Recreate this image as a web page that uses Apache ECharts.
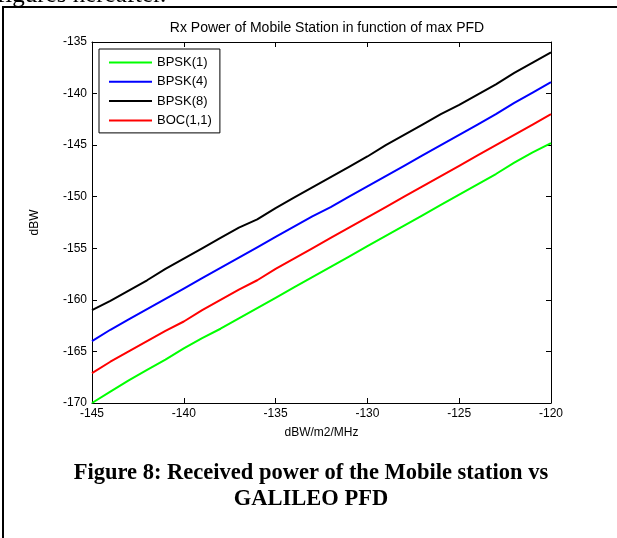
<!DOCTYPE html>
<html>
<head>
<meta charset="utf-8">
<script src="https://cdn.jsdelivr.net/npm/echarts@6/dist/echarts.min.js"></script>
<style>
  html, body { margin: 0; padding: 0; background: #fff; }
  #chart { width: 617px; height: 538px; }
</style>
</head>
<body>
<div id="chart"></div>
<script>
// PFD values (dBW/m2/MHz)
const pfd = [-145, -144, -143, -142, -141, -140, -139, -138, -137, -136, -135, -134, -133,
             -132, -131, -130, -129, -128, -127, -126, -125, -124, -123, -122, -121, -120];

// Received power (dBW) per signal
const bpsk1 = [-170.0, -168.9, -167.8, -166.8, -165.8, -164.7, -163.7, -162.8, -161.8, -160.8,
               -159.8, -158.8, -157.8, -156.8, -155.8, -154.8, -153.8, -152.8, -151.8, -150.8,
               -149.8, -148.8, -147.8, -146.7, -145.7, -144.8];
const bpsk4 = [-164.0, -162.9, -161.9, -160.9, -159.9, -158.9, -157.9, -156.9, -155.9, -154.9,
               -153.9, -152.9, -151.9, -151.0, -150.0, -149.0, -148.0, -147.0, -146.0, -145.0,
               -144.0, -143.0, -142.0, -140.9, -139.9, -138.9];
const bpsk8 = [-161.0, -160.1, -159.1, -158.1, -157.0, -156.0, -155.0, -154.0, -153.0, -152.2,
               -151.1, -150.1, -149.1, -148.1, -147.1, -146.1, -145.0, -144.0, -143.0, -142.0,
               -141.1, -140.1, -139.1, -138.0, -137.0, -136.0];
const boc11 = [-167.1, -166.0, -165.0, -164.0, -163.0, -162.1, -161.0, -160.0, -159.0, -158.1,
               -157.0, -156.0, -155.0, -154.0, -153.0, -152.0, -151.0, -150.0, -149.0, -148.0,
               -147.0, -146.0, -145.0, -144.0, -143.0, -142.0];

const seriesNames = ['BPSK(1)', 'BPSK(4)', 'BPSK(8)', 'BOC(1,1)'];
const seriesData = [bpsk1, bpsk4, bpsk8, boc11];
const seriesColors = ['#00ff00', '#0000ff', '#000000', '#ff0000'];

const xTicks = { min: -145, max: -120, interval: 5 };
const yTicks = { min: -170, max: -135, interval: 5 };

const sans = 'Liberation Sans, Arial, sans-serif';
const serif = 'Liberation Serif, Times New Roman, serif';

const chart = echarts.init(document.getElementById('chart'), null, { renderer: 'canvas' });

const boxAxis = (extra) => Object.assign({
  type: 'value',
  splitLine: { show: false },
  axisLine: { show: true, onZero: false, lineStyle: { color: '#000', width: 1 } },
  axisTick: { show: true, inside: true, length: 5, lineStyle: { color: '#000' } },
  axisLabel: { show: false }
}, extra);

chart.setOption({
  animation: false,
  backgroundColor: '#fff',
  title: {
    text: 'Rx Power of Mobile Station in function of max PFD',
    left: 322, top: 16, textAlign: 'center',
    textStyle: { fontFamily: sans, fontSize: 14, fontWeight: 'normal', color: '#000' }
  },
  grid: { left: 92, right: 66, top: 42, bottom: 135 },
  legend: {
    orient: 'vertical', left: 99, top: 49,
    padding: [7, 8, 6, 9],
    itemWidth: 43, itemHeight: 14, itemGap: 6.3,
    itemStyle: { opacity: 0 },
    borderColor: '#000', borderWidth: 1, backgroundColor: '#fff',
    textStyle: { fontFamily: sans, fontSize: 13, color: '#000' },
    data: seriesNames
  },
  xAxis: [
    boxAxis({
      position: 'bottom', min: xTicks.min, max: xTicks.max, interval: xTicks.interval,
      name: 'dBW/m2/MHz', nameLocation: 'middle', nameGap: 24,
      nameTextStyle: { fontFamily: sans, fontSize: 12, color: '#000' },
      axisLabel: { show: true, margin: 5, fontFamily: sans, fontSize: 12, color: '#000' }
    }),
    boxAxis({ position: 'top', min: xTicks.min, max: xTicks.max, interval: xTicks.interval })
  ],
  yAxis: [
    boxAxis({
      position: 'left', min: yTicks.min, max: yTicks.max, interval: yTicks.interval,
      name: 'dBW', nameLocation: 'middle', nameGap: 51,
      nameTextStyle: { fontFamily: sans, fontSize: 12, color: '#000' },
      axisLabel: { show: true, margin: 5, fontFamily: sans, fontSize: 12, color: '#000' }
    }),
    boxAxis({ position: 'right', min: yTicks.min, max: yTicks.max, interval: yTicks.interval })
  ],
  series: seriesNames.map((name, i) => ({
    name: name,
    type: 'line',
    xAxisIndex: 0,
    yAxisIndex: 0,
    symbol: 'none',
    data: pfd.map((x, j) => [x, seriesData[i][j]]),
    lineStyle: { color: seriesColors[i], width: 2 },
    itemStyle: { color: seriesColors[i] }
  })),
  graphic: [
    // running text above the figure frame (only its lower part is on the page)
    { type: 'text', x: -3, y: -17,
      style: { text: 'figures hereafter.', font: '25px ' + serif, fill: '#000' } },
    // frame around the figure
    { type: 'rect', shape: { x: 3, y: 7, width: 620, height: 540 },
      style: { fill: 'none', stroke: '#000', lineWidth: 2 } },
    // caption, two centred lines
    { type: 'text', x: 311, y: 462,
      style: { text: 'Figure 8: Received power of the Mobile station vs',
               font: 'bold 22.5px ' + serif, fill: '#000',
               align: 'center', textAlign: 'center' } },
    { type: 'text', x: 311, y: 488,
      style: { text: 'GALILEO PFD',
               font: 'bold 22.5px ' + serif, fill: '#000',
               align: 'center', textAlign: 'center' } }
  ]
});
</script>
</body>
</html>
